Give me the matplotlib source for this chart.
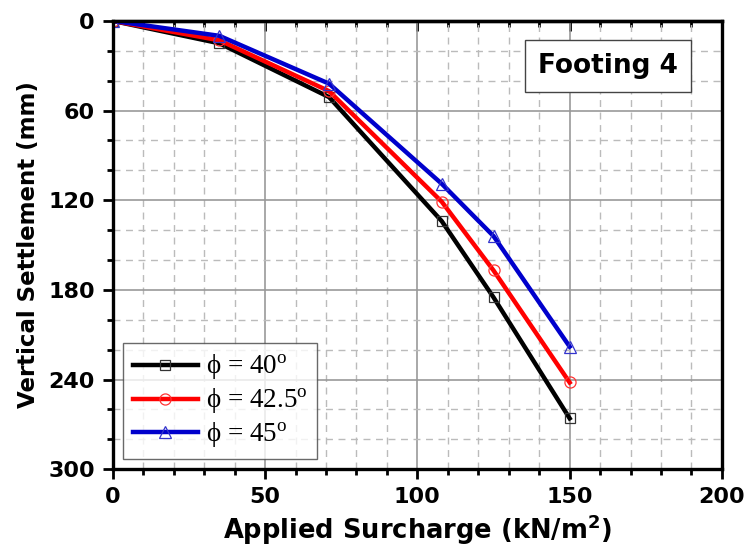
import numpy as np
import matplotlib.pyplot as plt
from matplotlib.ticker import MultipleLocator

# applied surcharge (kN/m2) and settlement (mm) for each friction angle
surcharge = [0, 35, 71, 108, 125, 150]
settle_40 = [0, 15, 51, 134, 185, 266]
settle_425 = [0, 13, 47, 121, 167, 242]
settle_45 = [0, 10, 42, 109, 144, 218]
labels = [r'$\mathrm{\phi}$ = 40$^{\mathrm{o}}$',
          r'$\mathrm{\phi}$ = 42.5$^{\mathrm{o}}$',
          r'$\mathrm{\phi}$ = 45$^{\mathrm{o}}$']

plt.rcParams['mathtext.fontset'] = 'custom'
plt.rcParams['mathtext.rm'] = 'Liberation Serif'

fig = plt.figure(figsize=(7.52, 5.5), dpi=100)
ax = fig.add_axes([0.150, 0.147, 0.810, 0.815])

ax.plot(surcharge, settle_40, color='black', lw=3.2, marker='s', ms=7,
        mfc='none', mec='#333333', mew=0.9, label=labels[0])
ax.plot(surcharge, settle_425, color='red', lw=3.2, marker='o', ms=8,
        mfc='none', mec='#ff3333', mew=0.9, label=labels[1])
ax.plot(surcharge, settle_45, color='#0000cc', lw=3.2, marker='^', ms=8,
        mfc='none', mec='#3333cc', mew=0.9, label=labels[2])

ax.set_xlim(0, 200)
ax.set_ylim(300, 0)
ax.xaxis.set_major_locator(MultipleLocator(50))
ax.xaxis.set_minor_locator(MultipleLocator(10))
ax.yaxis.set_major_locator(MultipleLocator(60))
ax.yaxis.set_minor_locator(MultipleLocator(20))

ax.grid(which='major', color='#999999', lw=1.2, ls='-')
ax.grid(which='minor', color='#bbbbbb', lw=1.0, ls=(0, (5, 4)))
ax.set_axisbelow(True)

for s in ax.spines.values():
    s.set_linewidth(2.4)

ax.tick_params(which='both', direction='out', width=2, top=False, right=False)
ax.tick_params(which='major', length=7, labelsize=16, pad=6)
ax.tick_params(which='minor', length=4.5)
for lbl in ax.get_xticklabels() + ax.get_yticklabels():
    lbl.set_fontweight('bold')

# inward ticks along the top edge
top = ax.secondary_xaxis('top')
top.xaxis.set_major_locator(MultipleLocator(50))
top.xaxis.set_minor_locator(MultipleLocator(10))
top.tick_params(which='both', direction='in', width=2, labeltop=False)
top.tick_params(which='major', length=7)
top.tick_params(which='minor', length=4.5)
top.spines['top'].set_linewidth(2.4)

ax.set_xlabel('Applied Surcharge (kN/m$^\\mathbf{2}$)', fontsize=18.5, fontweight='bold', labelpad=4)
ax.set_ylabel('Vertical Settlement (mm)', fontsize=16.5, fontweight='bold', labelpad=6)

ax.text(162.5, 30, 'Footing 4', fontsize=19, fontweight='bold', ha='center', va='center',
        bbox=dict(boxstyle='square,pad=0.5', fc='white', ec='#444444', lw=1))

leg = ax.legend(loc='lower left', bbox_to_anchor=(0.004, 0.004),
                prop={'family': 'Liberation Serif', 'size': 19.5},
                frameon=True, fancybox=False, edgecolor='#444444',
                handlelength=2.4, handletextpad=0.3, labelspacing=0.15,
                borderpad=0.35, borderaxespad=0.3)
leg.get_frame().set_linewidth(1)

fig.savefig('out.png', dpi=100)
